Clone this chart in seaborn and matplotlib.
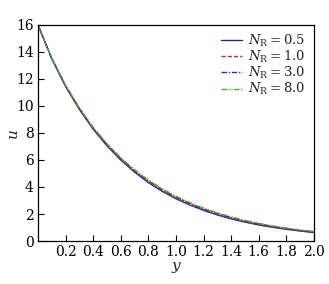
import matplotlib
matplotlib.use("Agg")
import matplotlib.pyplot as plt
import seaborn as sns
import pandas as pd

y_vals = [0.0, 0.1, 0.2, 0.3, 0.4, 0.5, 0.6, 0.7, 0.8, 0.9, 1.0,
          1.1, 1.2, 1.3, 1.4, 1.5, 1.6, 1.7, 1.8, 1.9, 2.0]
u_nr05 = [16.0, 13.5, 11.45, 9.75, 8.28, 7.05, 6.0, 5.1, 4.33, 3.68, 3.13,
          2.67, 2.27, 1.93, 1.64, 1.40, 1.19, 1.02, 0.87, 0.74, 0.63]
u_nr10 = [16.0, 13.51, 11.47, 9.78, 8.32, 7.09, 6.04, 5.15, 4.38, 3.73, 3.18,
          2.71, 2.31, 1.97, 1.68, 1.43, 1.22, 1.04, 0.89, 0.76, 0.65]
u_nr30 = [16.0, 13.52, 11.5, 9.82, 8.37, 7.15, 6.1, 5.21, 4.45, 3.8, 3.25,
          2.78, 2.37, 2.03, 1.73, 1.48, 1.27, 1.08, 0.93, 0.79, 0.68]
u_nr80 = [16.0, 13.53, 11.53, 9.86, 8.42, 7.21, 6.17, 5.28, 4.52, 3.87, 3.32,
          2.85, 2.44, 2.09, 1.79, 1.53, 1.31, 1.12, 0.96, 0.82, 0.70]
labels = [r"$N_{\mathrm{R}}=0.5$", r"$N_{\mathrm{R}}=1.0$",
          r"$N_{\mathrm{R}}=3.0$", r"$N_{\mathrm{R}}=8.0$"]
x_ticks = [0.2, 0.4, 0.6, 0.8, 1.0, 1.2, 1.4, 1.6, 1.8, 2.0]
y_ticks = [0, 2, 4, 6, 8, 10, 12, 14, 16]

sns.set_theme(style="ticks")
plt.rcParams["font.family"] = ["DejaVu Serif"]
plt.rcParams["mathtext.fontset"] = "dejavuserif"

frames = []
for lab, u in zip(labels, [u_nr05, u_nr10, u_nr30, u_nr80]):
    frames.append(pd.DataFrame({"y": y_vals, "u": u, "series": lab}))
df = pd.concat(frames, ignore_index=True)

fig = plt.figure(figsize=(3.29, 2.84), dpi=100)
ax = fig.add_axes([0.1155, 0.1514, 0.8385, 0.7606])

colors = ["#1a2f6e", "#d0243a", "#2233aa", "#55a630"]
styles = ["-", (0, (3, 1.5)), (0, (4, 1.2, 1, 1.2)), (0, (4, 1, 1, 1, 1, 1))]
for lab, c, ls in zip(labels, colors, styles):
    sub = df[df["series"] == lab]
    sns.lineplot(data=sub, x="y", y="u", ax=ax, color=c, linestyle=ls,
                 linewidth=1.0, label=lab, sort=False, estimator=None)

ax.set_xlim(0, 2.0)
ax.set_ylim(0, 16)
ax.set_xticks(x_ticks)
ax.set_xticklabels([f"{t:.1f}" for t in x_ticks])
ax.set_yticks(y_ticks)
ax.tick_params(direction="in", length=4, width=0.8, labelsize=10, colors="black",
               top=False, right=False, pad=3)
for s in ax.spines.values():
    s.set_linewidth(0.9)
    s.set_color("black")
ax.set_xlabel("y", fontstyle="italic", fontsize=11, labelpad=0)
ax.set_ylabel("u", fontstyle="italic", fontsize=11)
ax.yaxis.set_label_coords(-0.065, 0.5)

leg = ax.legend(loc="upper right", frameon=False, fontsize=9.5, handlelength=1.6,
                handletextpad=0.5, labelspacing=0.0, borderaxespad=0.2)

fig.savefig("out.png", dpi=100)
